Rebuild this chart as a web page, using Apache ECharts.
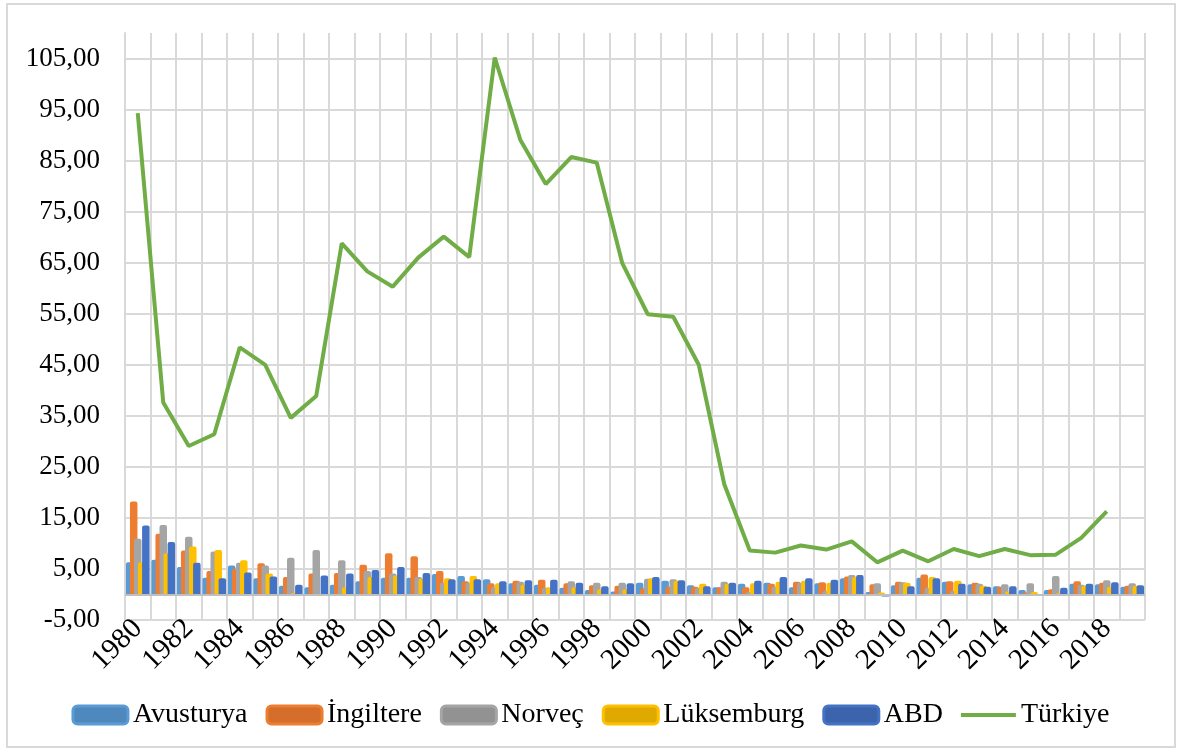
<!DOCTYPE html>
<html>
<head>
<meta charset="utf-8">
<script src="https://cdn.jsdelivr.net/npm/echarts@6/dist/echarts.min.js"></script>
<style>
  html, body { margin: 0; padding: 0; background: #fff; }
  #frame { position: absolute; left: 6px; top: 3px; width: 1170px; height: 745px; border: 2px solid #d9d9d9; box-sizing: border-box; }
  #chart { position: absolute; left: 0; top: 0; width: 1181px; height: 752px; }
</style>
</head>
<body>
<div id="frame"></div>
<div id="chart"></div>
<script>
const years = ['1980','1981','1982','1983','1984','1985','1986','1987','1988','1989',
  '1990','1991','1992','1993','1994','1995','1996','1997','1998','1999',
  '2000','2001','2002','2003','2004','2005','2006','2007','2008','2009',
  '2010','2011','2012','2013','2014','2015','2016','2017','2018','2019']

const avusturya = [6.3, 6.8, 5.4, 3.3, 5.7, 3.2, 1.7, 1.4, 1.9, 2.6,
  3.3, 3.3, 4.0, 3.6, 3.0, 2.2, 1.9, 1.3, 0.9, 0.6,
  2.3, 2.7, 1.8, 1.4, 2.1, 2.3, 1.4, 2.2, 3.2, 0.5,
  1.8, 3.3, 2.5, 2.0, 1.6, 0.9, 0.9, 2.1, 2.0, 1.5]
const ingiltere = [18.2, 11.9, 8.6, 4.6, 5.0, 6.1, 3.4, 4.1, 4.2, 5.8,
  8.1, 7.5, 4.6, 2.6, 2.2, 2.7, 2.9, 2.2, 1.8, 1.7,
  1.2, 1.5, 1.5, 1.4, 1.4, 2.1, 2.5, 2.4, 3.5, 2.0,
  2.5, 3.9, 2.6, 2.3, 1.5, 0.4, 1.0, 2.6, 2.3, 1.7]
const norvec = [10.9, 13.6, 11.3, 8.4, 6.2, 5.7, 7.2, 8.7, 6.7, 4.6,
  4.1, 3.4, 2.3, 2.3, 1.4, 2.5, 1.3, 2.6, 2.3, 2.3,
  3.1, 3.0, 1.3, 2.5, 0.5, 1.5, 2.3, 0.7, 3.8, 2.2,
  2.4, 1.3, 0.7, 2.1, 2.0, 2.2, 3.6, 1.9, 2.8, 2.2]
const luksemburg = [6.3, 8.1, 9.4, 8.7, 6.7, 4.1, 0.3, -0.1, 1.4, 3.4,
  3.7, 3.1, 3.2, 3.6, 2.2, 1.9, 1.4, 1.4, 1.0, 1.0,
  3.2, 2.7, 2.1, 2.1, 2.2, 2.5, 2.7, 2.3, 3.4, 0.4,
  2.3, 3.4, 2.7, 1.7, 0.6, 0.5, 0.3, 1.7, 1.5, 1.7]
const abd = [13.5, 10.3, 6.2, 3.2, 4.3, 3.5, 1.9, 3.7, 4.1, 4.8,
  5.4, 4.2, 3.0, 3.0, 2.6, 2.8, 2.9, 2.3, 1.6, 2.2,
  3.4, 2.8, 1.6, 2.3, 2.7, 3.4, 3.2, 2.9, 3.8, -0.4,
  1.6, 3.2, 2.1, 1.5, 1.6, 0.1, 1.3, 2.1, 2.4, 1.8]
const turkiye = [94.3, 37.6, 29.1, 31.4, 48.4, 45.0, 34.6, 38.9, 68.8, 63.3,
  60.3, 66.0, 70.1, 66.1, 105.2, 89.1, 80.4, 85.7, 84.6, 64.9,
  54.9, 54.4, 45.0, 21.6, 8.6, 8.2, 9.6, 8.8, 10.4, 6.3,
  8.6, 6.5, 8.9, 7.5, 8.9, 7.7, 7.8, 11.1, 16.3, '-']

const font = 'Liberation Serif, Times New Roman, serif'
const chart = echarts.init(document.getElementById('chart'))

const bar = (name, data, color) => ({
  name,
  type: 'bar',
  data,
  barWidth: 7.5,
  barGap: '-46%',
  itemStyle: { color, borderRadius: [2, 2, 0, 0] }
})

const series = [
  bar('Avusturya', avusturya, '#5B9BD5'),
  bar('İngiltere', ingiltere, '#ED7D31'),
  bar('Norveç', norvec, '#A5A5A5'),
  bar('Lüksemburg', luksemburg, '#FFC000'),
  bar('ABD', abd, '#4472C4'),
  {
    name: 'Türkiye',
    type: 'line',
    data: turkiye,
    symbol: 'none',
    showSymbol: false,
    z: 5,
    lineStyle: { color: '#70AD47', width: 4 },
    itemStyle: { color: '#70AD47' }
  }
]

// zero line across the plot, like the Excel horizontal axis
series[0].markLine = {
  silent: true,
  symbol: 'none',
  label: { show: false },
  lineStyle: { color: '#bfbfbf', type: 'solid', width: 2 },
  data: [{ yAxis: 0 }]
}

const legendBox = (name, fill, edge) => ({
  name,
  icon: 'roundRect',
  itemStyle: { color: fill, borderColor: edge, borderWidth: 3 }
})

// thin horizontal bar centred in the 55x18 icon box
const lineIcon = 'path://M0,0 L55,0 L55,0.01 Z M0,7 L55,7 L55,11 L0,11 Z M0,18 L55,18 L55,18.01 Z'

chart.setOption({
  animation: false,
  textStyle: { fontFamily: font },
  grid: { left: 125, right: 36, top: 33, bottom: 132 },
  legend: {
    top: 696,
    left: 'center',
    itemWidth: 55,
    itemHeight: 18,
    itemGap: 18,
    textStyle: { fontFamily: font, fontSize: 28, color: '#000' },
    data: [
      legendBox('Avusturya', '#4f88bd', '#5B9BD5'),
      legendBox('İngiltere', '#d46e2a', '#ED7D31'),
      legendBox('Norveç', '#929292', '#A5A5A5'),
      legendBox('Lüksemburg', '#e0a900', '#FFC000'),
      legendBox('ABD', '#3c64ad', '#4472C4'),
      { name: 'Türkiye', icon: lineIcon, itemStyle: { color: '#70AD47', borderWidth: 0 } }
    ]
  },
  xAxis: {
    type: 'category',
    data: years,
    axisLine: { show: false, onZero: false },
    axisTick: { show: false },
    axisLabel: {
      interval: 1,
      rotate: 45,
      margin: 4,
      fontFamily: font,
      fontSize: 29,
      color: '#000'
    },
    splitLine: { show: true, interval: 0, lineStyle: { color: '#d9d9d9', width: 2 } }
  },
  yAxis: {
    type: 'value',
    min: -5,
    max: 110,
    interval: 10,
    axisLine: { show: true, lineStyle: { color: '#d9d9d9', width: 2 } },
    axisTick: { show: false },
    axisLabel: {
      showMaxLabel: false,
      margin: 25,
      fontFamily: font,
      fontSize: 27,
      color: '#000',
      formatter: (v) => v > 105 ? '' : v.toFixed(2).replace('.', ',')
    },
    splitLine: { show: true, showMaxLine: false, lineStyle: { color: '#d9d9d9', width: 2 } }
  },
  series
})
</script>
</body>
</html>
